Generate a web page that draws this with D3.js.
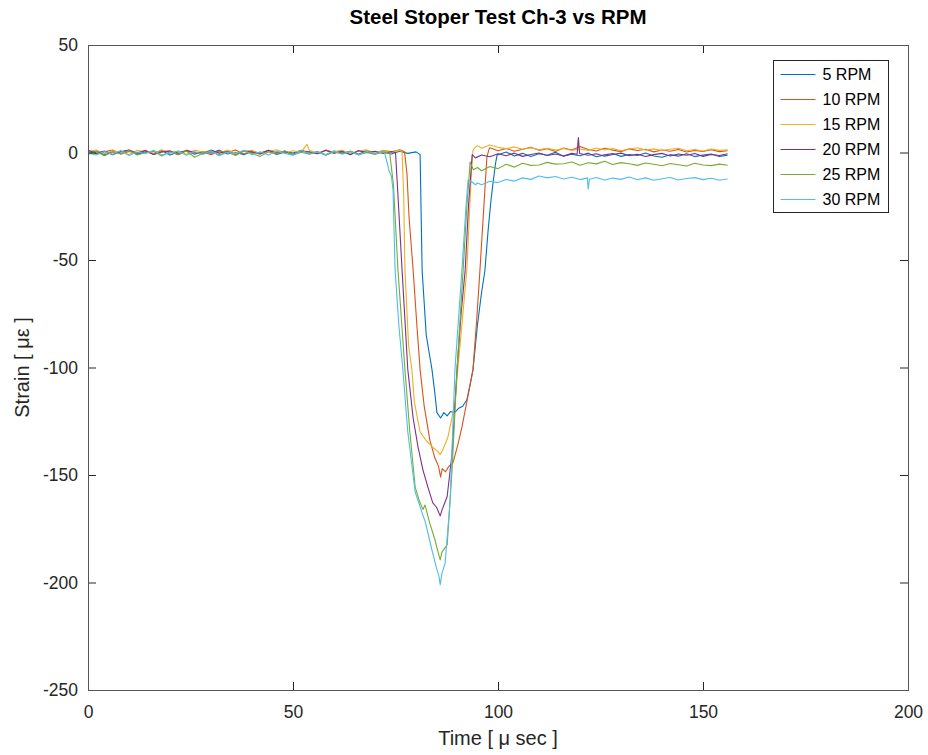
<!DOCTYPE html>
<html>
<head>
<meta charset="utf-8">
<script src="https://cdn.jsdelivr.net/npm/d3@7"></script>
<style>
  body { margin: 0; background: #fff; }
  svg { font-family: "Liberation Sans", Arial, Helvetica, sans-serif; }
</style>
</head>
<body>
<div id="chart"></div>
<script>
const labels = ['5 RPM', '10 RPM', '15 RPM', '20 RPM', '25 RPM', '30 RPM'];
const colors = ['#0072BD', '#D95319', '#EDB120', '#7E2F8E', '#77AC30', '#4DBEEE'];
const xTicks = [0, 50, 100, 150, 200];
const yTicks = [-250, -200, -150, -100, -50, 0, 50];

// [time μs, strain με]
const rpm5 = [
  [0,-0.6],[2,0.8],[4,-1.1],[6,0.4],[8,-0.2],[10,1.0],[12,-0.9],[14,0.3],[16,-0.5],[18,0.9],[20,-1.2],[22,0.2],[24,0.7],[26,-0.8],[28,0.5],[30,-0.3],[32,1.1],[34,-0.7],[36,0.1],[38,-1.0],[40,0.6],[42,-0.4],[44,0.9],[46,-0.9],[48,0.3],[50,-0.2],[52,1.0],[54,-0.6],[56,0.4],[58,-1.1],[60,0.7],[62,-0.3],[64,0.5],[66,-0.8],[68,0.9],[70,-0.5],[72,0.2],[74,-0.7],[76,0.6],[78,-0.4],[80,0.3],
  [81,-1],[81.5,-55],[82.5,-85],[83.9,-101],[84.6,-112],[85.1,-121],[86,-123.5],[86.8,-121],[87.6,-122.5],[88.4,-120.5],[89.4,-121],[90.4,-119],[91.4,-118],[92.4,-115],[93.2,-108],[93.9,-101],[95,-80],[96,-65],[96.8,-55],[97.6,-36],[98.3,-22],[98.8,-14],[99.4,-5],[99.8,-1],
  [100,-1.0],[102,0.2],[104,-1.6],[106,-0.4],[108,-1.9],[110,-0.6],[112,-1.3],[114,0.1],[116,-1.7],[118,-0.8],[120,-1.5],[122,-0.3],[124,-2.0],[126,-1.1],[128,-0.5],[130,-1.8],[132,-0.9],[134,-1.4],[136,-0.2],[138,-1.6],[140,-2.2],[142,-1.0],[144,-1.7],[146,-0.6],[148,-1.9],[150,-1.2],[152,-0.7],[154,-1.8],[156,-1.3]
];
const rpm10 = [
  [0,0.9],[2,-0.5],[4,0.3],[6,1.2],[8,-0.8],[10,0.5],[12,-0.2],[14,1.0],[16,-0.9],[18,0.4],[20,0.8],[22,-0.6],[24,1.1],[26,-0.3],[28,0.2],[30,-1.0],[32,0.7],[34,0.0],[36,1.2],[38,-0.7],[40,0.5],[42,-0.4],[44,1.0],[46,-0.1],[48,0.6],[50,-0.9],[52,0.8],[54,0.3],[56,-0.5],[58,1.1],[60,-0.2],[62,0.6],[64,-0.8],[66,0.9],[68,0.1],[70,-0.6],[72,1.0],[74,0.2],[76,1.3],[77.2,0.4],
  [77.8,-10],[78.3,-30],[79.3,-54.6],[80.2,-80],[81,-101],[82,-118],[83.4,-134],[84.6,-142],[85.5,-146],[86,-151],[86.4,-147],[87.2,-148.5],[88,-146],[89,-144.4],[90.2,-136],[91.2,-127.7],[92.6,-114],[93.9,-101],[94.8,-78],[95.6,-54.6],[96.2,-36],[96.8,-17.5],[97.3,-2],[97.8,1.5],
  [98,2.2],[100,0.8],[102,1.9],[104,0.6],[106,1.5],[108,2.4],[110,1.0],[112,1.8],[114,0.5],[116,2.1],[118,1.2],[120,2.8],[122,1.4],[124,0.7],[126,2.0],[128,1.1],[130,0.4],[132,1.7],[134,0.9],[136,1.5],[138,0.3],[140,1.2],[142,0.6],[144,1.4],[146,0.2],[148,1.0],[150,0.5],[152,1.3],[154,0.4],[156,0.8]
];
const rpm15 = [
  [0,0.4],[2,1.2],[4,-0.6],[6,0.8],[8,0.1],[10,-0.9],[12,1.0],[14,0.3],[16,-0.4],[18,1.3],[20,-0.2],[22,0.7],[24,-0.8],[26,1.1],[28,0.2],[30,0.9],[32,-0.5],[34,1.2],[36,-0.3],[38,0.6],[40,1.0],[42,-0.7],[44,0.4],[46,1.3],[48,-0.1],[50,0.8],[52,0.2],[53.4,3.8],[54,1.0],[56,-0.4],[58,0.9],[60,0.3],[62,1.1],[64,-0.6],[66,0.7],[68,1.2],[70,-0.2],[72,0.9],[74,0.4],[76,1.0],
  [76.6,0.2],[77,-20],[77.3,-54.6],[78.2,-90],[79,-101],[79.6,-116],[81,-130],[82.5,-134],[84,-137],[85.3,-139],[85.9,-140.5],[86.6,-138],[87.8,-132.3],[88.7,-124],[89.5,-116.5],[90.2,-101],[91.3,-78],[92.4,-54.6],[93,-30],[93.5,-10],[93.9,1],[94.5,2.5],
  [95,3.2],[96,2.0],[98,3.5],[100,2.4],[102,1.8],[104,2.6],[106,1.5],[108,2.2],[110,1.3],[112,2.0],[114,1.1],[116,1.9],[118,0.9],[120,1.6],[122,1.0],[124,2.1],[126,1.2],[128,1.8],[130,0.8],[132,1.6],[134,2.2],[136,1.1],[138,1.7],[140,0.9],[142,1.5],[144,2.0],[146,0.8],[148,1.4],[150,0.7],[152,1.6],[154,1.0],[156,1.3]
];
const rpm20 = [
  [0,1.0],[2,-0.4],[4,0.7],[6,-1.0],[8,0.5],[10,1.2],[12,-0.3],[14,0.8],[16,-0.9],[18,0.2],[20,0.6],[22,-1.1],[24,0.9],[26,0.0],[28,-0.6],[30,1.1],[32,-0.2],[34,0.5],[36,-1.0],[38,0.8],[40,0.1],[42,-0.7],[44,1.0],[46,-0.5],[48,0.4],[50,-0.9],[52,0.7],[54,0.2],[56,-0.6],[58,1.0],[60,-0.3],[62,0.5],[64,-1.0],[66,0.8],[68,-0.1],[70,0.6],[72,-0.5],[74,0.4],
  [75,0],[75.6,-20],[76.6,-54.6],[78,-101],[79.3,-123.5],[80.5,-137],[81.7,-147.7],[82.9,-155.6],[84.1,-163],[85,-165],[85.9,-169],[86.4,-166],[87.6,-160],[88.2,-150],[88.8,-139.8],[90,-101],[91,-75],[92,-54.6],[92.8,-25],[93.7,-1],[94.5,-2.5],
  [96,-1.2],[98,-2.0],[100,-0.6],[102,-1.5],[104,-0.3],[106,-1.8],[108,-0.9],[110,-0.2],[112,-1.4],[114,-0.7],[116,-1.6],[118,-0.4],[119.3,-0.8],[119.6,7.0],[119.9,-0.5],[122,-1.3],[124,-0.6],[126,-1.7],[128,-0.9],[130,-0.3],[132,-1.5],[134,-0.8],[136,-1.9],[138,-1.0],[140,-0.4],[142,-1.6],[144,-0.7],[146,-1.3],[148,-0.5],[150,-1.8],[152,-0.9],[154,-1.4],[156,-0.6]
];
const rpm25 = [
  [0,-0.8],[2,0.4],[4,-1.5],[6,0.2],[8,-0.6],[10,0.9],[12,-1.2],[14,-0.1],[16,0.6],[18,-1.6],[20,0.3],[22,-0.9],[24,0.7],[26,-2.2],[28,-0.4],[30,0.5],[32,-1.0],[34,0.2],[36,-1.4],[38,0.6],[40,-0.5],[42,-1.8],[44,0.3],[46,-0.7],[48,0.8],[50,-1.1],[52,0.1],[54,-0.8],[56,0.5],[58,-1.3],[60,0.2],[62,-0.6],[64,0.7],[66,-1.0],[68,0.0],[70,-0.9],[72,0.4],
  [73.6,-0.5],[74.5,-15],[75.6,-54.6],[77.3,-101],[78.5,-130],[79.8,-155.6],[80.8,-162],[81.7,-166],[82.2,-164],[83.3,-172],[84.6,-180],[85.4,-186],[85.9,-189.5],[86.3,-186],[87,-184],[87.6,-182.5],[88.2,-165],[88.8,-147.7],[90,-101],[91.5,-54.6],[92.4,-25],[93.2,-4.4],[94,-8],
  [95,-7.0],[96,-8.5],[98,-6.5],[100,-7.5],[102,-5.5],[104,-6.8],[106,-5.0],[108,-6.0],[110,-5.8],[112,-4.6],[114,-5.4],[116,-5.2],[118,-4.4],[120,-5.9],[122,-4.8],[124,-5.3],[126,-4.1],[128,-5.6],[130,-4.7],[132,-5.2],[134,-6.0],[136,-4.9],[138,-5.5],[140,-6.2],[142,-5.1],[144,-5.7],[146,-6.3],[148,-5.0],[150,-5.8],[152,-6.1],[154,-5.4],[156,-5.9]
];
const rpm30 = [
  [0,-0.3],[2,-1.2],[4,0.5],[6,-0.8],[8,0.9],[10,-1.4],[12,0.2],[14,-0.6],[16,1.0],[18,-1.1],[20,-0.2],[22,0.7],[24,-1.3],[26,0.4],[28,-0.9],[30,0.8],[32,-1.5],[34,0.1],[36,-0.7],[38,1.1],[40,-1.0],[42,0.3],[44,-1.2],[46,0.6],[48,-0.4],[50,-1.3],[52,0.9],[54,-0.5],[56,0.2],[58,-1.1],[60,0.7],[62,-0.8],[64,0.4],[66,-1.2],[68,0.5],[70,-0.6],[72,0.3],
  [72.4,-0.5],[73,-5],[73.5,-9],[74,-11],[74.4,-17.5],[74.9,-54.6],[75.8,-80],[76.8,-101],[78,-130],[79.8,-158],[81.5,-167.7],[82.3,-172],[83.9,-185],[85.1,-194],[85.6,-197],[85.9,-201],[86.3,-196],[87.1,-191],[88.3,-163],[89.5,-101],[91.2,-54.6],[92.2,-25],[92.7,-12.8],[93.5,-13.5],[94.5,-15],
  [95,-14.2],[96,-15.0],[98,-13.4],[100,-14.0],[102,-12.6],[104,-13.3],[106,-11.8],[108,-12.5],[110,-10.9],[112,-11.8],[114,-11.2],[116,-12.3],[118,-11.5],[120,-12.6],[121.8,-11.8],[122,-17],[122.3,-12.4],[124,-11.6],[126,-12.8],[128,-11.9],[130,-12.5],[132,-11.4],[134,-12.7],[136,-11.8],[138,-12.9],[140,-12.2],[142,-11.6],[144,-12.8],[146,-12.1],[148,-11.7],[150,-12.6],[152,-12.0],[154,-12.9],[156,-12.3]
];
const series = [rpm5, rpm10, rpm15, rpm20, rpm25, rpm30];

const width = 928;
const height = 755;
const margin = { top: 45, right: 20, bottom: 65, left: 88 };
const innerW = width - margin.left - margin.right;
const innerH = height - margin.top - margin.bottom;
const axisColor = '#262626';
const tickLen = 8;
const tickFont = '17.5px';

const svg = d3.select('#chart').append('svg')
  .attr('width', width)
  .attr('height', height)
  .attr('viewBox', `0 0 ${width} ${height}`);

const g = svg.append('g').attr('transform', `translate(${margin.left},${margin.top})`);

const x = d3.scaleLinear().domain([0, 200]).range([0, innerW]);
const y = d3.scaleLinear().domain([-250, 50]).range([innerH, 0]);

// data lines
const line = d3.line().x(d => x(d[0])).y(d => y(d[1]));
g.selectAll('.series')
  .data(series)
  .join('path')
  .attr('class', 'series')
  .attr('fill', 'none')
  .attr('stroke', (d, i) => colors[i])
  .attr('stroke-width', 1.1)
  .attr('stroke-linejoin', 'round')
  .attr('d', line);

// axes, ticks pointing inward on all four sides
function styleAxis(sel) {
  sel.selectAll('.domain').remove();
  sel.selectAll('line').attr('stroke', axisColor);
  sel.selectAll('text').attr('fill', axisColor).style('font-size', tickFont);
}
const plain = d => String(d);

g.append('g')
  .attr('transform', `translate(0,${innerH})`)
  .call(d3.axisBottom(x).tickValues(xTicks).tickFormat(plain).tickSizeInner(-tickLen).tickSizeOuter(0).tickPadding(16))
  .call(styleAxis);
g.append('g')
  .call(d3.axisTop(x).tickValues(xTicks).tickSizeInner(-tickLen).tickSizeOuter(0).tickFormat(''))
  .call(styleAxis);
g.append('g')
  .call(d3.axisLeft(y).tickValues(yTicks).tickFormat(plain).tickSizeInner(-tickLen).tickSizeOuter(0).tickPadding(10))
  .call(styleAxis);
g.append('g')
  .attr('transform', `translate(${innerW},0)`)
  .call(d3.axisRight(y).tickValues(yTicks).tickSizeInner(-tickLen).tickSizeOuter(0).tickFormat(''))
  .call(styleAxis);

g.append('rect')
  .attr('x', 0.5).attr('y', 0.5)
  .attr('width', innerW).attr('height', innerH)
  .attr('fill', 'none')
  .attr('stroke', '#555')
  .attr('stroke-width', 1);

// title and axis labels
svg.append('text')
  .attr('x', margin.left + innerW / 2)
  .attr('y', 24)
  .attr('text-anchor', 'middle')
  .attr('font-weight', 'bold')
  .style('font-size', '20.5px')
  .attr('fill', '#000')
  .text('Steel Stoper Test Ch-3 vs RPM');

svg.append('text')
  .attr('x', margin.left + innerW / 2)
  .attr('y', 745)
  .attr('text-anchor', 'middle')
  .style('font-size', '20px')
  .attr('fill', axisColor)
  .text('Time [ μ sec ]');

svg.append('text')
  .attr('transform', `translate(29,${margin.top + innerH / 2}) rotate(-90)`)
  .attr('text-anchor', 'middle')
  .style('font-size', '20px')
  .attr('fill', axisColor)
  .text('Strain [ με ]');

// legend
const legend = svg.append('g').attr('transform', 'translate(773.5,60.5)');
legend.append('rect')
  .attr('width', 115).attr('height', 152)
  .attr('fill', '#fff')
  .attr('stroke', axisColor)
  .attr('stroke-width', 1);
const items = legend.selectAll('.item')
  .data(labels)
  .join('g')
  .attr('class', 'item')
  .attr('transform', (d, i) => `translate(0,${14 + i * 25})`);
items.append('line')
  .attr('x1', 7).attr('x2', 42)
  .attr('stroke', (d, i) => colors[i])
  .attr('stroke-width', 1.1);
items.append('text')
  .attr('x', 49)
  .attr('dy', '0.36em')
  .style('font-size', '16px')
  .attr('fill', '#000')
  .text(d => d);
</script>
</body>
</html>
